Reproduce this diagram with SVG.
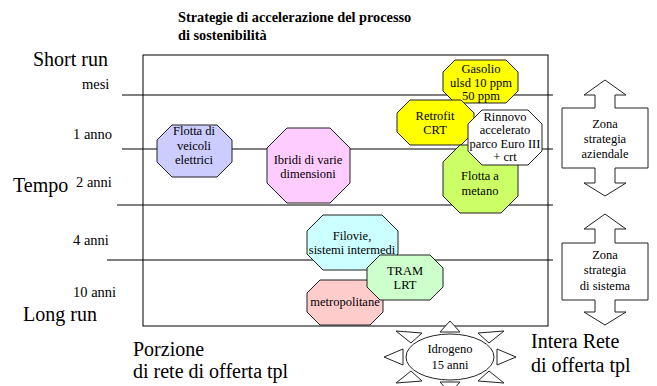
<svg xmlns="http://www.w3.org/2000/svg" width="657" height="386" viewBox="0 0 657 386">
<style>
text{font-family:"Liberation Serif","Times New Roman",serif;fill:#000}
.n{font-size:12.5px;text-anchor:middle}
.s{font-size:14.5px}
.b{font-size:20px}
.t{font-size:14.3px;font-weight:bold}
.oct{stroke:#222;stroke-width:1}
.ln{stroke:#000;stroke-width:1;fill:none}
.ar{fill:#fff;stroke:#222;stroke-width:1}
</style>
<rect width="657" height="386" fill="#fff"/>
<g id="title">
<text class="t" x="178" y="22">Strategie di accelerazione del processo</text>
<text class="t" x="178" y="40">di sostenibilità</text>
</g>
<g id="axis">
<rect class="ln" x="143" y="55" width="405" height="271"/>
<line class="ln" x1="122" y1="95" x2="553" y2="95"/>
<line class="ln" x1="122" y1="149" x2="553" y2="149"/>
<line class="ln" x1="117" y1="205" x2="553" y2="205"/>
<line class="ln" x1="107" y1="260" x2="553" y2="260"/>
<text class="b" x="33" y="66">Short run</text>
<text class="b" x="13" y="192">Tempo</text>
<text class="b" x="23" y="321">Long run</text>
<text class="s" x="82" y="89">mesi</text>
<text class="s" x="73" y="139">1 anno</text>
<text class="s" x="76" y="187">2 anni</text>
<text class="s" x="73" y="245">4 anni</text>
<text class="s" x="73" y="297">10 anni</text>
<text class="b" x="133" y="356">Porzione</text>
<text class="b" x="133" y="378">di rete di offerta tpl</text>
<text class="b" x="531" y="348">Intera Rete</text>
<text class="b" x="531" y="372">di offerta tpl</text>
</g>
<g id="elettrici">
<polygon class="oct" fill="#CCCCFF" points="172,125 217,125 232,140 232,162 217,177 172,177 157,162 157,140"/>
<text class="n" x="194" y="135">Flotta di</text>
<text class="n" x="194" y="150">veicoli</text>
<text class="n" x="194" y="164">elettrici</text>
</g>
<g id="ibridi">
<polygon class="oct" fill="#FFCCFF" points="287,128 330,128 350,148 350,183 330,203 287,203 267,183 267,148"/>
<text class="n" x="308" y="164">Ibridi di varie</text>
<text class="n" x="308" y="178">dimensioni</text>
</g>
<g id="gasolio">
<polygon class="oct" fill="#FFFF00" points="455,60 506,60 518,72 518,91 506,103 455,103 443,91 443,72"/>
<text class="n" x="481" y="73">Gasolio</text>
<text class="n" x="481" y="87">ulsd 10 ppm</text>
<text class="n" x="481" y="100">50 ppm</text>
</g>
<g id="retrofit">
<polygon class="oct" fill="#FFFF00" points="410,100 461,100 474,113 474,132 461,145 410,145 397,132 397,113"/>
<text class="n" x="435" y="120">Retrofit</text>
<text class="n" x="435" y="134">CRT</text>
</g>
<g id="metano">
<polygon class="oct" fill="#CCFF66" points="460,145 501,145 518,162 518,196 501,213 460,213 443,196 443,162"/>
<text class="n" x="480" y="180">Flotta a</text>
<text class="n" x="480" y="195">metano</text>
</g>
<g id="rinnovo">
<polygon class="oct" fill="#FFFFFF" points="482,110 528,110 542,124 542,151 528,165 482,165 468,151 468,124"/>
<text class="n" x="505" y="121">Rinnovo</text>
<text class="n" x="505" y="134">accelerato</text>
<text class="n" x="505" y="148">parco Euro III</text>
<text class="n" x="505" y="161">+ crt</text>
</g>
<g id="filovie">
<polygon class="oct" fill="#CCFFFF" points="323,215 382,215 398,231 398,254 382,270 323,270 307,254 307,231"/>
<text class="n" x="352" y="240">Filovie,</text>
<text class="n" x="352" y="254">sistemi intermedi</text>
</g>
<g id="metropolitane">
<polygon class="oct" fill="#FFCCCC" points="320,280 370,280 383,293 383,312 370,325 320,325 307,312 307,293"/>
<text class="n" x="345" y="306">metropolitane</text>
</g>
<g id="tram">
<polygon class="oct" fill="#CCFFCC" points="380,255 430,255 443,268 443,287 430,300 380,300 367,287 367,268"/>
<text class="n" x="405" y="275">TRAM</text>
<text class="n" x="405" y="289">LRT</text>
</g>
<g id="idrogeno">
<g class="ar">
<polygon points="450,321 440,332 460,332"/>
<polygon points="450,393 440,382 460,382"/>
<polygon points="384,357 403,349 403,365"/>
<polygon points="516,357 497,349 497,365"/>
<polygon points="396,331 422,333 411,343"/>
<polygon points="504,331 478,333 489,343"/>
<polygon points="396,383 422,381 411,371"/>
<polygon points="504,383 478,381 489,371"/>
</g>
<ellipse class="ar" cx="450" cy="357" rx="44" ry="23"/>
<text class="n" x="450" y="353">Idrogeno</text>
<text class="n" x="450" y="369">15 anni</text>
</g>
<g id="zona-aziendale">
<path class="ar" d="M605,80 L626,95 L615,95 L615,108 L648,108 L648,168 L615,168 L615,183 L626,183 L605,196 L584,183 L595,183 L595,168 L562,168 L562,108 L595,108 L595,95 L584,95 Z"/>
<text class="n" x="605" y="128">Zona</text>
<text class="n" x="605" y="143">strategia</text>
<text class="n" x="605" y="158">aziendale</text>
</g>
<g id="zona-sistema">
<path class="ar" d="M605,214 L626,229 L615,229 L615,243 L648,243 L648,300 L615,300 L615,312 L626,312 L605,325 L584,312 L595,312 L595,300 L562,300 L562,243 L595,243 L595,229 L584,229 Z"/>
<text class="n" x="605" y="259">Zona</text>
<text class="n" x="605" y="274">strategia</text>
<text class="n" x="605" y="290">di sistema</text>
</g>
<g id="connectors"></g>
</svg>
